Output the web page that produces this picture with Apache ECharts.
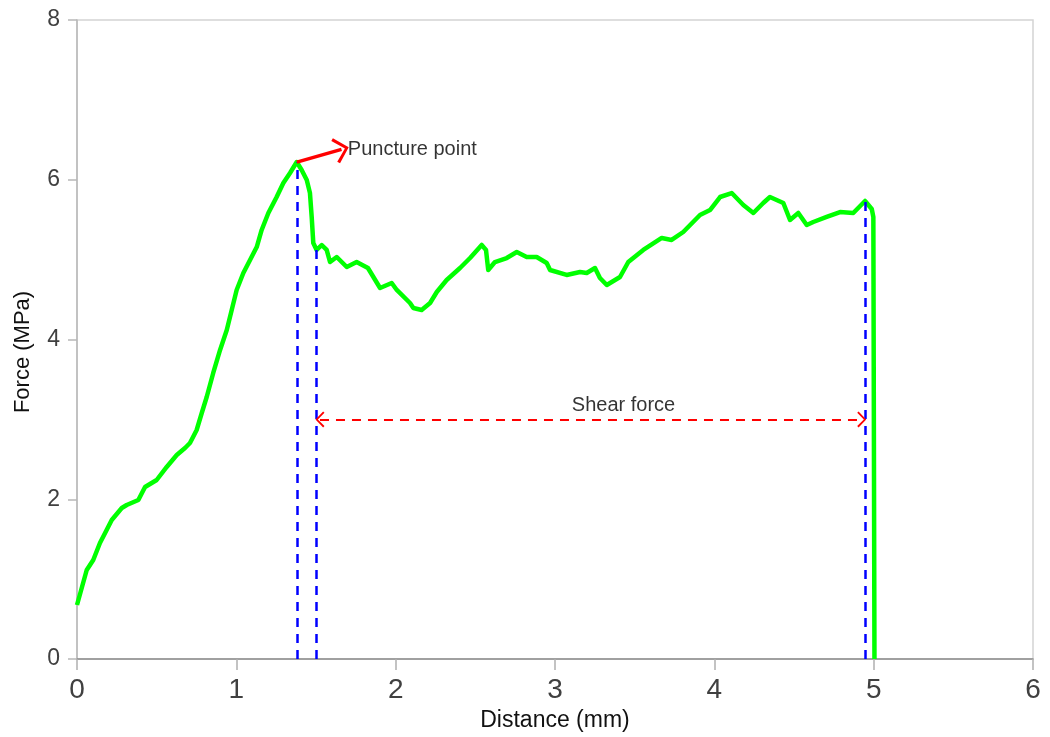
<!DOCTYPE html>
<html>
<head>
<meta charset="utf-8">
<script src="https://cdn.jsdelivr.net/npm/echarts@6/dist/echarts.min.js"></script>
<style>
  html, body { margin: 0; padding: 0; background: #ffffff; }
  #chart { width: 1050px; height: 737px; }
</style>
</head>
<body>
<div id="chart"></div>
<script>
// Force-distance record of the puncture / shear test
const distance = [
  0.000, 0.061, 0.102, 0.144, 0.186, 0.218, 0.281, 0.312, 0.385, 0.427,
  0.500, 0.563, 0.626, 0.678, 0.709, 0.751, 0.783, 0.814, 0.855, 0.898,
  0.940, 0.971, 1.002, 1.044, 1.086, 1.128, 1.159, 1.201, 1.253, 1.295,
  1.337, 1.379, 1.410, 1.442, 1.462, 1.473, 1.483, 1.504, 1.536, 1.567,
  1.588, 1.630, 1.693, 1.755, 1.826, 1.902, 1.975, 2.007, 2.090, 2.111,
  2.163, 2.216, 2.258, 2.320, 2.404, 2.467, 2.540, 2.567, 2.581, 2.623,
  2.697, 2.760, 2.822, 2.885, 2.948, 2.969, 3.073, 3.157, 3.199, 3.251,
  3.282, 3.325, 3.408, 3.460, 3.554, 3.670, 3.732, 3.805, 3.910, 3.973,
  4.036, 4.109, 4.182, 4.245, 4.307, 4.349, 4.433, 4.475, 4.527, 4.580,
  4.621, 4.705, 4.789, 4.872, 4.946, 4.988, 4.998, 5.005
];
const force = [
  0.676, 1.114, 1.239, 1.452, 1.615, 1.740, 1.890, 1.928, 1.991, 2.153,
  2.241, 2.404, 2.554, 2.642, 2.704, 2.867, 3.080, 3.280, 3.581, 3.869,
  4.119, 4.369, 4.620, 4.833, 4.995, 5.158, 5.371, 5.584, 5.784, 5.959,
  6.085, 6.222, 6.122, 5.997, 5.834, 5.534, 5.208, 5.121, 5.183, 5.121,
  4.970, 5.033, 4.908, 4.970, 4.895, 4.645, 4.707, 4.620, 4.457, 4.394,
  4.369, 4.457, 4.595, 4.745, 4.895, 5.020, 5.183, 5.121, 4.870, 4.970,
  5.020, 5.095, 5.033, 5.033, 4.958, 4.870, 4.808, 4.845, 4.833, 4.895,
  4.770, 4.682, 4.782, 4.970, 5.121, 5.271, 5.246, 5.346, 5.559, 5.621,
  5.784, 5.834, 5.684, 5.584, 5.709, 5.784, 5.709, 5.496, 5.584, 5.434,
  5.471, 5.534, 5.596, 5.584, 5.734, 5.634, 5.534, 0.000
];

// Vertical guide lines: puncture peak, start of shear plateau, end of plateau
const guideX = [1.38, 1.50, 4.95];
const guideTop = [6.22, 5.12, 5.75];

// Puncture arrow (from peak towards the label) and shear-force span
const punctureArrowFrom = [1.38, 6.22];
const punctureArrowTo = [1.66, 6.38];
const shearSpan = [1.525, 4.925];
const shearLevel = 3.0;

// Annotation texts
const noteText = ['Puncture point', 'Shear force'];
const noteX = [1.70, 3.43];
const noteY = [6.385, 3.18];
const noteAlign = ['left', 'center'];

const xTicks = [0, 1, 2, 3, 4, 5, 6];
const yTicks = [0, 2, 4, 6, 8];

const xTitle = 'Distance (mm)';
const yTitle = 'Force (MPa)';

// Open V arrowhead pointing up (rotated along the line by ECharts)
const headPath = 'path://M10,0 L20,9 L18.3,10.6 L10,2.8 L1.7,10.6 L0,9 Z';

const curve = distance.map((d, i) => [d, force[i]]);

const guideLines = guideX.map((x, i) => [
  { coord: [x, 0] },
  { coord: [x, guideTop[i]] }
]);

const notes = noteText.map((t, i) => ({
  value: [noteX[i], noteY[i]],
  label: {
    show: true,
    formatter: t,
    position: noteAlign[i] === 'left' ? 'right' : 'inside',
    distance: 0,
    align: noteAlign[i],
    verticalAlign: 'middle',
    color: '#000000',
    fontSize: 20,
    fontFamily: 'Liberation Sans, Arial, sans-serif'
  }
}));

const chart = echarts.init(document.getElementById('chart'), null, { renderer: 'canvas' });

chart.setOption({
  backgroundColor: '#ffffff',
  animation: false,
  grid: {
    left: 77, right: 17, top: 20, bottom: 78,
    show: true, borderColor: '#d4d4d4', borderWidth: 1.5,
    containLabel: false,
    outerBoundsMode: 'none'
  },
  // Vertical axis title, set slightly below the plot's mid-height
  graphic: [{
    type: 'text',
    x: 23,
    y: 352,
    rotation: Math.PI / 2,
    style: {
      text: yTitle,
      align: 'center',
      verticalAlign: 'middle',
      fill: '#111111',
      fontSize: 22,
      fontFamily: 'Liberation Sans, Arial, sans-serif'
    }
  }],
  xAxis: {
    type: 'value',
    min: xTicks[0], max: xTicks[xTicks.length - 1], interval: 1,
    name: xTitle,
    nameLocation: 'middle',
    nameGap: 50,
    nameTextStyle: { fontSize: 23, color: '#111111', fontFamily: 'Liberation Sans, Arial, sans-serif' },
    axisLine: { show: true, lineStyle: { color: '#8c8c8c', width: 1.5 } },
    axisTick: { show: true, length: 11, lineStyle: { color: '#b0b0b0', width: 1.5 } },
    axisLabel: { fontSize: 28, color: '#404040', margin: 17, fontFamily: 'Liberation Sans, Arial, sans-serif' },
    splitLine: { show: false }
  },
  yAxis: {
    type: 'value',
    min: yTicks[0], max: yTicks[yTicks.length - 1], interval: 2,
    axisLine: { show: true, lineStyle: { color: '#b8b8b8', width: 1.5 } },
    axisTick: { show: true, length: 9, lineStyle: { color: '#b8b8b8', width: 1.5 } },
    axisLabel: { fontSize: 23, color: '#404040', margin: 17, fontFamily: 'Liberation Sans, Arial, sans-serif' },
    splitLine: { show: false }
  },
  series: [
    {
      name: 'Force',
      type: 'line',
      data: curve,
      showSymbol: false,
      symbol: 'none',
      lineStyle: { color: '#00ff00', width: 4.5, join: 'round' },
      z: 2
    },
    {
      name: 'Guides',
      type: 'line',
      data: [],
      z: 3,
      markLine: {
        silent: true,
        symbol: ['none', 'none'],
        label: { show: false },
        lineStyle: { color: '#0000ff', width: 2.5, type: [9, 7] },
        data: guideLines
      }
    },
    {
      name: 'Arrows',
      type: 'line',
      data: [],
      z: 4,
      markLine: {
        silent: true,
        label: { show: false },
        data: [
          [
            { coord: punctureArrowFrom, symbol: 'none',
              lineStyle: { color: '#ff0000', width: 3.5, type: 'solid' } },
            { coord: punctureArrowTo, symbol: headPath, symbolSize: [26, 15] }
          ],
          [
            { coord: [shearSpan[0], shearLevel], symbol: headPath, symbolSize: [16, 9],
              lineStyle: { color: '#ff0000', width: 2, type: [9, 7] } },
            { coord: [shearSpan[1], shearLevel], symbol: headPath, symbolSize: [16, 9] }
          ]
        ],
        itemStyle: { color: '#ff0000' }
      }
    },
    {
      name: 'Notes',
      type: 'scatter',
      data: notes,
      symbolSize: 0,
      silent: true,
      z: 5
    }
  ]
});
</script>
</body>
</html>
